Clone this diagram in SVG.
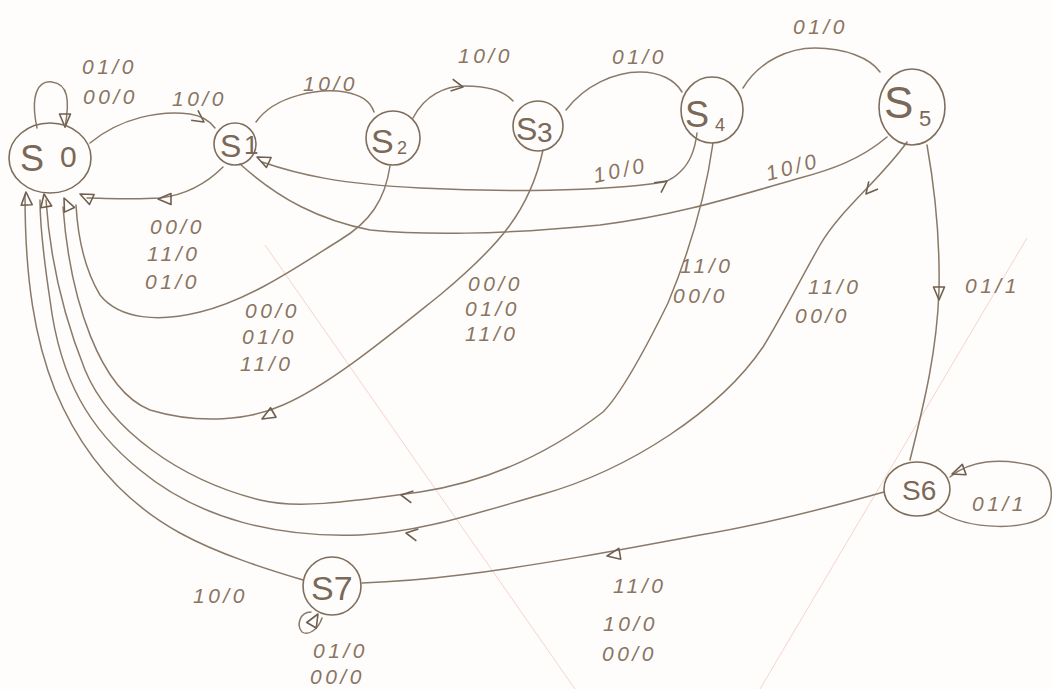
<svg xmlns="http://www.w3.org/2000/svg" width="1052" height="689" viewBox="0 0 1052 689">
  <style>
    .node { fill: none; stroke: #7f6d5c; stroke-width: 1.6; }
    .edge { fill: none; stroke: #8a7968; stroke-width: 1.5; stroke-linecap: round; stroke-linejoin: round; }
    .head { fill: none; stroke: #6f5f50; stroke-width: 1.6; stroke-linejoin: round; }
    .lbl { font-family: "Liberation Sans", Arial, sans-serif; font-style: italic; font-size: 21px; letter-spacing: 3.5px; fill: #8a7462; }
    .st { font-family: "Liberation Sans", Arial, sans-serif; fill: #7a6858; }
    .rule { stroke: #f2b9b0; stroke-width: 1; opacity: 0.6; }
  </style>
  <defs>
    <path id="tri" d="M0,0 L-13,-5.5 L-13,5.5 Z"/>
    <path id="chev" d="M-11,-7 L0,0 L-12,5"/>
  </defs>

  <rect width="1052" height="689" fill="#fefdfb"/>

  <!-- faint ruled lines on the paper -->
  <g id="paper">
    <line class="rule" x1="265" y1="245" x2="575" y2="689"/>
    <line class="rule" x1="1027" y1="238" x2="760" y2="689"/>
  </g>

  <!-- transitions -->
  <g id="connectors">
    <path class="edge" d="M37,128 C30,95 38,80 52,82 C68,84 70,100 65,127"/>
    <path class="edge" d="M90,143 C120,118 160,110 190,114 C203,116 210,121 215,128"/>
    <path class="edge" d="M223,167 C205,185 185,195 160,198 C130,200 105,198 87,198"/>
    <path class="edge" d="M256,122 C275,95 320,88 345,92 C360,95 370,100 374,112"/>
    <path class="edge" d="M413,118 C425,95 445,86 465,86 C490,86 505,92 513,101"/>
    <path class="edge" d="M566,110 C585,85 615,72 640,72 C660,72 675,80 682,92"/>
    <path class="edge" d="M743,88 C760,60 790,48 815,48 C845,48 870,58 880,72"/>
    <path class="edge" d="M697,133 C695,150 690,163 680,172 C675,177 670,180 664,182 C600,192 500,192 420,188 C340,184 300,175 262,162"/>
    <path class="edge" d="M887,137 C860,160 830,170 800,178 C740,195 680,215 600,225 C500,235 420,235 370,230 C320,220 280,200 240,164"/>
    <path class="edge" d="M390,166 C385,200 370,222 340,240 C300,265 250,300 200,312 C160,322 120,320 100,295 C85,270 78,240 76,205"/>
    <path class="edge" d="M543,150 C530,210 500,245 440,295 C390,335 330,385 283,405 C250,420 200,425 150,410 C100,390 70,300 63,207"/>
    <path class="edge" d="M713,143 C705,200 690,250 668,303 C640,360 620,395 603,412 C560,445 500,480 420,492 C360,500 300,510 260,500 C180,480 110,430 85,370 C65,320 50,260 46,200"/>
    <path class="edge" d="M907,142 C880,180 840,210 820,245 C800,280 780,320 763,347 C720,410 630,470 540,495 C470,515 420,532 360,535 C280,538 200,520 140,470 C90,430 60,380 50,300 C44,260 40,230 40,200"/>
    <path class="edge" d="M927,145 C935,190 940,240 939,290 C937,350 925,400 910,460"/>
    <path class="edge" d="M950,477 C970,460 1000,458 1030,465 C1055,472 1055,500 1045,515 C1030,530 970,532 937,510"/>
    <path class="edge" d="M884,492 C820,510 760,525 700,535 C620,550 540,565 460,575 C420,580 390,582 362,583"/>
    <path class="edge" d="M303,580 C270,570 220,555 180,533 C120,500 80,450 55,390 C35,340 25,280 25,195"/>
    <path class="edge" d="M311,612 C300,612 296,625 302,632 C308,636 318,630 322,618"/>

    <!-- arrowheads -->
    <use href="#tri" class="head" transform="translate(65,127) rotate(90)"/>
    <use href="#chev" class="head" transform="translate(204,122) rotate(30)"/>
    <use href="#tri" class="head" transform="translate(158,199) rotate(180)"/>
    <use href="#tri" class="head" transform="translate(80,194) rotate(205)"/>
    <use href="#tri" class="head" transform="translate(257,157) rotate(205)"/>
    <use href="#chev" class="head" transform="translate(463,87) rotate(5)"/>
    <use href="#chev" class="head" transform="translate(667,181) rotate(-40)"/>
    <use href="#chev" class="head" transform="translate(866,194) rotate(125)"/>
    <use href="#tri" class="head" transform="translate(939,300) rotate(90)"/>
    <use href="#tri" class="head" transform="translate(952,474) rotate(160)"/>
    <use href="#tri" class="head" transform="translate(607,556) rotate(170)"/>
    <use href="#tri" class="head" transform="translate(318,614) rotate(-60)"/>
    <use href="#tri" class="head" transform="translate(262,419) rotate(150)"/>
    <use href="#chev" class="head" transform="translate(401,495) rotate(185)"/>
    <use href="#chev" class="head" transform="translate(406,533) rotate(185)"/>
    <use href="#tri" class="head" transform="translate(26,192) rotate(-93)"/>
    <use href="#tri" class="head" transform="translate(44,194) rotate(-100)"/>
    <use href="#tri" class="head" transform="translate(64,198) rotate(-115)"/>
  </g>

  <!-- transition labels -->
  <g id="labels" class="lbl">
    <text x="82" y="74">01/0</text>
    <text x="83" y="104">00/0</text>
    <text x="172" y="106">10/0</text>
    <text x="303" y="91">10/0</text>
    <text x="458" y="63">10/0</text>
    <text x="612" y="64">01/0</text>
    <text x="793" y="34">01/0</text>
    <text x="595" y="183" transform="rotate(-12 595 183)">10/0</text>
    <text x="768" y="181" transform="rotate(-15 768 181)">10/0</text>
    <text x="150" y="234">00/0</text>
    <text x="147" y="261">11/0</text>
    <text x="145" y="289">01/0</text>
    <text x="245" y="318">00/0</text>
    <text x="242" y="344">01/0</text>
    <text x="240" y="371">11/0</text>
    <text x="468" y="291">00/0</text>
    <text x="465" y="316">01/0</text>
    <text x="465" y="341">11/0</text>
    <text x="680" y="273">11/0</text>
    <text x="673" y="303">00/0</text>
    <text x="808" y="294">11/0</text>
    <text x="795" y="323">00/0</text>
    <text x="965" y="293">01/1</text>
    <text x="972" y="511">01/1</text>
    <text x="613" y="593">11/0</text>
    <text x="603" y="631">10/0</text>
    <text x="602" y="661">00/0</text>
    <text x="193" y="603">10/0</text>
    <text x="313" y="658">01/0</text>
    <text x="310" y="684">00/0</text>
  </g>

  <!-- states -->
  <g id="S0">
    <ellipse class="node" cx="50" cy="158" rx="41" ry="35"/>
    <text class="st" x="20" y="171" font-size="36">S</text>
    <text class="st" x="60" y="167" font-size="30">0</text>
  </g>
  <g id="S1">
    <circle class="node" cx="235" cy="144" r="21"/>
    <text class="st" x="220" y="157" font-size="32">S</text>
    <text class="st" x="244" y="154" font-size="26">1</text>
  </g>
  <g id="S2">
    <circle class="node" cx="393" cy="138" r="27"/>
    <text class="st" x="371" y="153" font-size="34">S</text>
    <text class="st" x="397" y="154" font-size="18">2</text>
  </g>
  <g id="S3">
    <circle class="node" cx="538" cy="126" r="25"/>
    <text class="st" x="516" y="140" font-size="32">S</text>
    <text class="st" x="537" y="142" font-size="28">3</text>
  </g>
  <g id="S4">
    <ellipse class="node" cx="712" cy="110" rx="31" ry="33"/>
    <text class="st" x="685" y="127" font-size="36">S</text>
    <text class="st" x="715" y="131" font-size="18">4</text>
  </g>
  <g id="S5">
    <ellipse class="node" cx="912" cy="107" rx="33" ry="38"/>
    <text class="st" x="884" y="118" font-size="44">S</text>
    <text class="st" x="919" y="126" font-size="22">5</text>
  </g>
  <g id="S6">
    <ellipse class="node" cx="917" cy="489" rx="33" ry="27"/>
    <text class="st" x="902" y="500" font-size="28">S6</text>
  </g>
  <g id="S7">
    <circle class="node" cx="332" cy="586" r="29"/>
    <text class="st" x="311" y="600" font-size="34">S7</text>
  </g>
</svg>
